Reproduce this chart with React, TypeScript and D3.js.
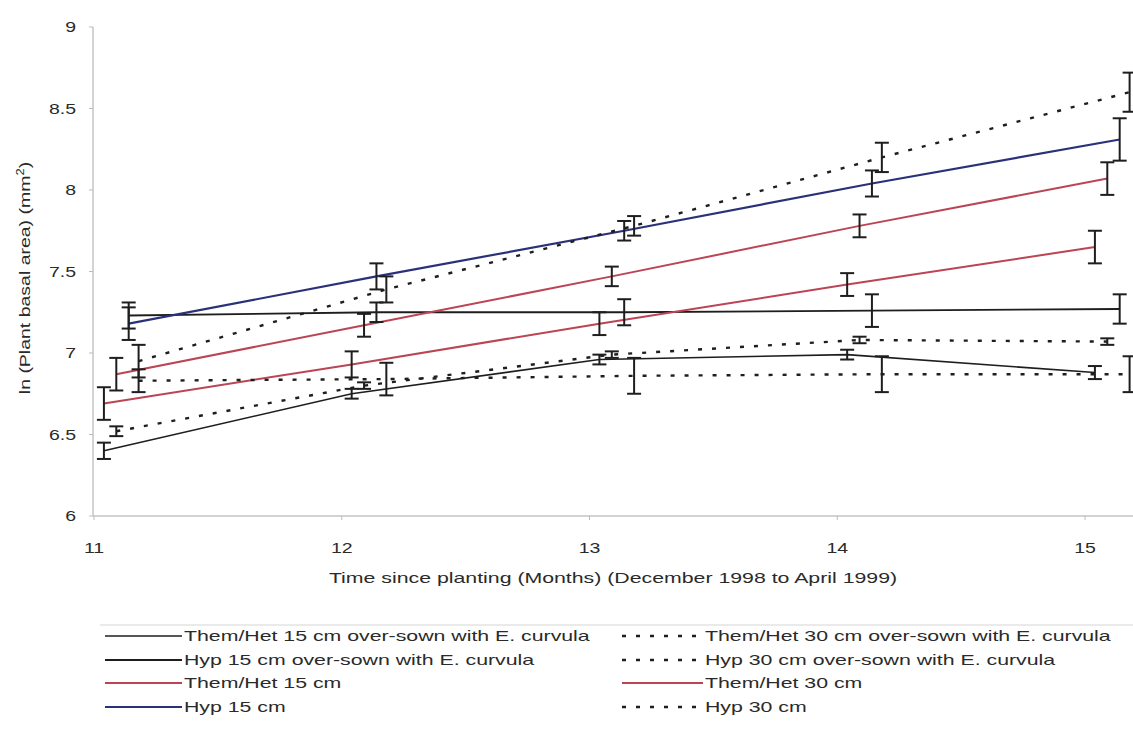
import * as d3 from "d3";

// months on the x axis, tick labels
const months = [11, 12, 13, 14, 15];
const xTicks = [11, 12, 13, 14, 15];
const yTicks = [6, 6.5, 7, 7.5, 8, 8.5, 9];

// ln(plant basal area), one array per treatment
const themHet15Over = [6.4, 6.75, 6.96, 6.99, 6.88];
const themHet15OverErr = [0.05, 0.03, 0.03, 0.03, 0.04];
const hyp15Over = [7.23, 7.25, 7.25, 7.26, 7.27];
const hyp15OverErr = [0.08, 0.06, 0.08, 0.1, 0.09];
const themHet15 = [6.69, 6.93, 7.18, 7.42, 7.65];
const themHet15Err = [0.1, 0.08, 0.07, 0.07, 0.1];
const hyp15 = [7.18, 7.47, 7.75, 8.04, 8.31];
const hyp15Err = [0.1, 0.08, 0.06, 0.08, 0.13];
const themHet30Over = [6.52, 6.8, 6.99, 7.08, 7.07];
const themHet30OverErr = [0.03, 0.02, 0.02, 0.02, 0.02];
const hyp30Over = [6.83, 6.84, 6.86, 6.87, 6.87];
const hyp30OverErr = [0.07, 0.1, 0.11, 0.11, 0.11];
const themHet30 = [6.87, 7.17, 7.47, 7.78, 8.07];
const themHet30Err = [0.1, 0.07, 0.06, 0.07, 0.1];
const hyp30 = [6.95, 7.39, 7.78, 8.2, 8.6];
const hyp30Err = [0.1, 0.08, 0.06, 0.09, 0.12];

const RED = "#bb4455";
const BLUE = "#2b3178";
const BLACK = "#1e1e1e";
const DOTS = "4 10";

type Series = {
  name: string;
  values: number[];
  err: number[];
  offset: number;
  color: string;
  width: number;
  dash?: string;
};

// left legend column first, then right column
const seriesList: Series[] = [
  { name: "Them/Het 15 cm over-sown with E. curvula", values: themHet15Over, err: themHet15OverErr, offset: 0.04, color: BLACK, width: 1.6 },
  { name: "Hyp 15 cm over-sown with E. curvula", values: hyp15Over, err: hyp15OverErr, offset: 0.14, color: BLACK, width: 1.8 },
  { name: "Them/Het 15 cm", values: themHet15, err: themHet15Err, offset: 0.04, color: RED, width: 2 },
  { name: "Hyp 15 cm", values: hyp15, err: hyp15Err, offset: 0.14, color: BLUE, width: 2.2 },
  { name: "Them/Het 30 cm over-sown with E. curvula", values: themHet30Over, err: themHet30OverErr, offset: 0.09, color: BLACK, width: 2.4, dash: DOTS },
  { name: "Hyp 30 cm over-sown with E. curvula", values: hyp30Over, err: hyp30OverErr, offset: 0.18, color: BLACK, width: 2.4, dash: DOTS },
  { name: "Them/Het 30 cm", values: themHet30, err: themHet30Err, offset: 0.09, color: RED, width: 2 },
  { name: "Hyp 30 cm", values: hyp30, err: hyp30Err, offset: 0.18, color: BLACK, width: 2.4, dash: DOTS },
];

const W = 1133;
const H = 755;
const FONT = "'Liberation Sans', Arial, sans-serif";
const FS = 15;
const SX = 1.42; // scanned type is wide

function Label(props: { x: number; y: number; text: any; anchor?: string; rotate?: number; sx?: number }) {
  const { x, y, text, anchor = "start", rotate = 0, sx = SX } = props;
  return (
    <text
      transform={`translate(${x},${y}) rotate(${rotate}) scale(${sx},1)`}
      textAnchor={anchor}
      fontFamily={FONT}
      fontSize={FS}
      fill="#2a2a2a"
    >
      {text}
    </text>
  );
}

export default function App() {
  const x = d3.scaleLinear().domain([11, 15]).range([94, 1085]);
  const y = d3.scaleLinear().domain([6, 9]).range([516, 27]);

  const legendRows = [636, 660, 683, 707];
  const cols = [
    { x1: 105, x2: 182, tx: 184 },
    { x1: 622, x2: 703, tx: 705 },
  ];

  return (
    <svg width={W} height={H} style={{ position: "absolute", left: 0, top: 0, background: "#fff" }}>
      {/* axes */}
      <line x1={x(11) - 1} x2={x(11) - 1} y1={y(9)} y2={y(6)} stroke="#c4c4c4" strokeWidth={1.5} />
      <line x1={x(11) - 1} x2={W} y1={y(6)} y2={y(6)} stroke="#c4c4c4" strokeWidth={1.5} />
      {yTicks.map((t) => (
        <g key={"y" + t}>
          <line x1={x(11) - 5} x2={x(11) - 1} y1={y(t)} y2={y(t)} stroke="#bbb" />
          <Label x={x(11) - 18} y={y(t) + 5} text={String(t)} anchor="end" sx={1.3} />
        </g>
      ))}
      {xTicks.map((t) => (
        <g key={"x" + t}>
          <line x1={x(t)} x2={x(t)} y1={y(6)} y2={y(6) + 4} stroke="#bbb" />
          <Label x={x(t)} y={y(6) + 37} text={String(t)} anchor="middle" sx={1.3} />
        </g>
      ))}
      <Label x={613} y={583} text="Time since planting (Months) (December  1998 to April 1999)" anchor="middle" />
      <Label
        x={30}
        y={278}
        rotate={-90}
        anchor="middle"
        sx={1.3}
        text={
          <>
            ln (Plant basal area) (mm
            <tspan dy={-6} fontSize={10}>2</tspan>
            <tspan dy={6}>)</tspan>
          </>
        }
      />

      {/* series lines */}
      {seriesList.map((s) => (
        <path
          key={"l" + s.name}
          d={
            d3
              .line<number>()
              .x((d, i) => x(months[i] + s.offset))
              .y((d) => y(d))(s.values) || ""
          }
          fill="none"
          stroke={s.color}
          strokeWidth={s.width}
          strokeDasharray={s.dash}
        />
      ))}

      {/* error bars */}
      {seriesList.map((s) =>
        s.values.map((v, i) => {
          const cx = x(months[i] + s.offset);
          const top = y(v + s.err[i]);
          const bot = y(v - s.err[i]);
          return (
            <g key={"e" + s.name + i} stroke={BLACK} strokeWidth={2}>
              <line x1={cx} x2={cx} y1={top} y2={bot} />
              <line x1={cx - 7} x2={cx + 7} y1={top} y2={top} />
              <line x1={cx - 7} x2={cx + 7} y1={bot} y2={bot} />
            </g>
          );
        })
      )}

      {/* legend */}
      <line x1={100} x2={W} y1={625} y2={625} stroke="#d6d6d6" strokeWidth={1.2} />
      {seriesList.map((s, i) => {
        const c = cols[Math.floor(i / 4)];
        const ry = legendRows[i % 4];
        return (
          <g key={"lg" + s.name}>
            <line x1={c.x1} x2={c.x2} y1={ry} y2={ry} stroke={s.color} strokeWidth={s.width} strokeDasharray={s.dash} />
            <Label x={c.tx} y={ry + 5} text={s.name} />
          </g>
        );
      })}
    </svg>
  );
}
